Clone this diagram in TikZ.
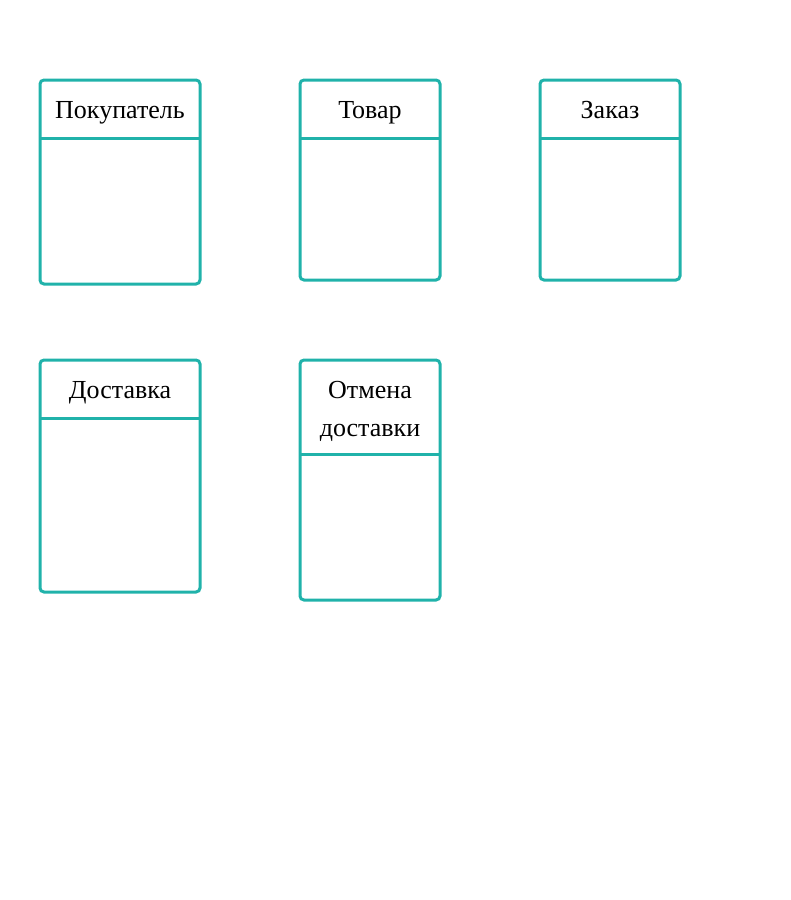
\documentclass[tikz,border=0pt]{standalone}
\usepackage{fontspec}
\setmainfont{Liberation Serif}
\definecolor{boxteal}{HTML}{20B2AA}
\begin{document}
\begin{tikzpicture}[x=1pt,y=-1pt,
  entity/.style={draw=boxteal, line width=3pt, rounded corners=4pt, rectangle, inner sep=0pt, outer sep=0pt},
  sep/.style={draw=boxteal, line width=3pt},
  title/.style={font=\fontsize{26}{38}\selectfont, align=center, inner sep=0pt, text=black, anchor=base}]
\useasboundingbox (0,0) rectangle (791,900);
% boxes
\node[entity, minimum width=160pt, minimum height=204pt] (b1) at (120,182) {};
\node[entity, minimum width=140pt, minimum height=200pt] (b2) at (370,180) {};
\node[entity, minimum width=140pt, minimum height=200pt] (b3) at (610,180) {};
\node[entity, minimum width=160pt, minimum height=232pt] (b4) at (120,476) {};
\node[entity, minimum width=140pt, minimum height=240pt] (b5) at (370,480) {};
% header separators
\coordinate (h1) at (0,138);
\coordinate (h4) at (0,418);
\coordinate (h5) at (0,454);
\draw[sep] (b1.west |- h1) -- (b1.east |- h1);
\draw[sep] (b2.west |- h1) -- (b2.east |- h1);
\draw[sep] (b3.west |- h1) -- (b3.east |- h1);
\draw[sep] (b4.west |- h4) -- (b4.east |- h4);
\draw[sep] (b5.west |- h5) -- (b5.east |- h5);
% titles
\node[title] (t1) at (120,118) {Покупатель};
\node[title] (t2) at (370,118) {Товар};
\node[title] (t3) at (610,118) {Заказ};
\node[title] (t4) at (120,398) {Доставка};
\node[title] (t5) at (370,436) {Отмена\\доставки};
\end{tikzpicture}
\end{document}
